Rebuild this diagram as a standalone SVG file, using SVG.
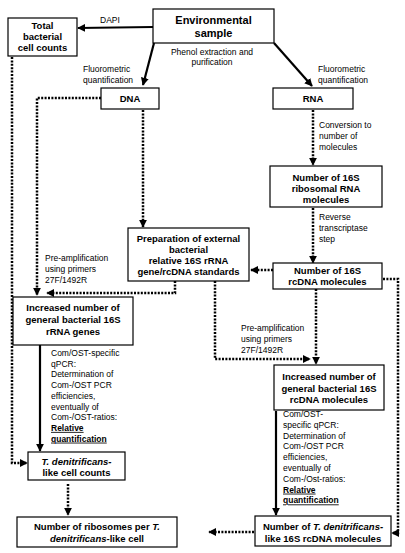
<svg xmlns="http://www.w3.org/2000/svg" width="405" height="553" viewBox="0 0 405 553">
<defs>
<style>
.box{fill:#fff;stroke:#000;stroke-width:1.2}
.t{font-family:"Liberation Sans",Arial,sans-serif;font-weight:bold;font-size:9.5px;text-anchor:middle;fill:#000}
.big{font-size:11px}
.l{font-family:"Liberation Sans",Arial,sans-serif;font-size:8.5px;fill:#000}
.i{font-style:italic}
.u{text-decoration:underline;font-weight:bold}
.sol{fill:none;stroke:#000;stroke-width:2.2;marker-end:url(#ah)}
.dot{fill:none;stroke:#000;stroke-width:2.5;stroke-dasharray:2 1.4;marker-end:url(#ah)}
.dotn{fill:none;stroke:#000;stroke-width:2.5;stroke-dasharray:2 1.4}
</style>
<marker id="ah" viewBox="0 0 10 10" refX="9" refY="5" markerWidth="8" markerHeight="8" markerUnits="userSpaceOnUse" orient="auto"><path d="M0,0 L10,5 L0,10 z" fill="#000"/></marker>
</defs>
<rect width="405" height="553" fill="#fff"/>

<g id="connectors">
<path class="sol" d="M153,27 L78,28"/>
<path class="sol" d="M154,43 L143,85"/>
<path class="sol" d="M274,43 L312,86"/>
<path class="dot" d="M12,57 L12,463 L27,463"/>
<path class="dot" d="M101,98 L37,98 L37,295"/>
<path class="dot" d="M143,110 L143,227"/>
<path class="dot" d="M313,110 L313,165"/>
<path class="dot" d="M313,208 L313,263"/>
<path class="dot" d="M273,270 L251,270"/>
<path class="dot" d="M175,281 L175,293 L47,293"/>
<path class="dot" d="M215,281 L215,359 L310,359"/>
<path class="dot" d="M316,289 L316,364"/>
<path class="dot" d="M383,279 L398,279 L398,533 L392,533"/>
<path class="sol" d="M40,345 L40,451"/>
<path class="sol" d="M276,411 L276,515"/>
<path class="dot" d="M68,484 L68,515"/>
<path class="dot" d="M254,532 L209,532"/>
</g>

<g id="env">
<rect class="box" x="153" y="9" width="121" height="34"/>
<text class="t big" x="213.5" y="24">Environmental</text>
<text class="t big" x="213.5" y="37">sample</text>
</g>
<g id="total">
<rect class="box" x="8" y="18" width="69" height="38"/>
<text class="t" x="42.5" y="28.5">Total</text>
<text class="t" x="42.5" y="39.5">bacterial</text>
<text class="t" x="42.5" y="50.5">cell counts</text>
</g>
<g id="dna">
<rect class="box" x="101" y="88" width="58" height="21"/>
<text class="t" x="130" y="101.5">DNA</text>
</g>
<g id="rna">
<rect class="box" x="273" y="88" width="80" height="21"/>
<text class="t" x="313" y="101.5">RNA</text>
</g>
<g id="rrna16s">
<rect class="box" x="270" y="166" width="112" height="41"/>
<text class="t" x="326" y="180.5">Number of 16S</text>
<text class="t" x="326" y="191.5">ribosomal RNA</text>
<text class="t" x="326" y="202.5">molecules</text>
</g>
<g id="prep">
<rect class="box" x="128" y="228" width="121" height="53"/>
<text class="t" x="188.5" y="242">Preparation of external</text>
<text class="t" x="188.5" y="253">bacterial</text>
<text class="t" x="188.5" y="264">relative 16S rRNA</text>
<text class="t" x="188.5" y="275">gene/rcDNA standards</text>
</g>
<g id="rcdna">
<rect class="box" x="273" y="263" width="109" height="26"/>
<text class="t" x="327.5" y="274">Number of 16S</text>
<text class="t" x="327.5" y="285">rcDNA molecules</text>
</g>
<g id="incr">
<rect class="box" x="13" y="297" width="120" height="48"/>
<text class="t" x="73" y="311">Increased number of</text>
<text class="t" x="73" y="323">general bacterial 16S</text>
<text class="t" x="73" y="335">rRNA genes</text>
</g>
<g id="incrc">
<rect class="box" x="274" y="365" width="110" height="45"/>
<text class="t" x="329" y="380">Increased number of</text>
<text class="t" x="329" y="391.5">general bacterial 16S</text>
<text class="t" x="329" y="403">rcDNA molecules</text>
</g>
<g id="tden">
<rect class="box" x="28" y="452" width="97" height="28"/>
<text class="t" x="76.5" y="464.5"><tspan class="i">T. denitrificans-</tspan></text>
<text class="t" x="76.5" y="475.5">like cell counts</text>
</g>
<g id="ribo">
<rect class="box" x="17" y="517" width="160" height="30"/>
<text class="t" x="97" y="530">Number of ribosomes per <tspan class="i">T.</tspan></text>
<text class="t" x="97" y="542"><tspan class="i">denitrificans</tspan>-like cell</text>
</g>
<g id="ntden">
<rect class="box" x="255" y="516" width="136" height="30"/>
<text class="t" x="323" y="530">Number of <tspan class="i">T. denitrificans-</tspan></text>
<text class="t" x="323" y="542">like 16S rcDNA molecules</text>
</g>

<g id="labels">
<text class="l" x="100" y="23">DAPI</text>
<text class="l" x="212" y="55" text-anchor="middle">Phenol extraction and</text>
<text class="l" x="212" y="65" text-anchor="middle">purification</text>
<text class="l" x="83" y="72">Fluorometric</text>
<text class="l" x="83" y="83">quantification</text>
<text class="l" x="318" y="72">Fluorometric</text>
<text class="l" x="318" y="83">quantification</text>
<text class="l" x="319" y="128">Conversion to</text>
<text class="l" x="319" y="139">number of</text>
<text class="l" x="319" y="150">molecules</text>
<text class="l" x="319" y="220">Reverse</text>
<text class="l" x="319" y="231">transcriptase</text>
<text class="l" x="319" y="242">step</text>
<text class="l" x="45" y="261">Pre-amplification</text>
<text class="l" x="45" y="272">using primers</text>
<text class="l" x="45" y="283">27F/1492R</text>
<text class="l" x="241" y="331">Pre-amplification</text>
<text class="l" x="241" y="342">using primers</text>
<text class="l" x="241" y="353">27F/1492R</text>
<text class="l" x="51" y="356">Com/OST-specific</text>
<text class="l" x="51" y="366.7">qPCR:</text>
<text class="l" x="51" y="377.4">Determination of</text>
<text class="l" x="51" y="388.1">Com-/OST PCR</text>
<text class="l" x="51" y="398.8">efficiencies,</text>
<text class="l" x="51" y="409.5">eventually of</text>
<text class="l" x="51" y="420.2">Com-/OST-ratios:</text>
<text class="l u" x="51" y="430.9">Relative</text>
<text class="l u" x="51" y="441.6">quantification</text>
<text class="l" x="283" y="417">Com/OST-</text>
<text class="l" x="283" y="427.8">specific qPCR:</text>
<text class="l" x="283" y="438.6">Determination of</text>
<text class="l" x="283" y="449.4">Com-/OST PCR</text>
<text class="l" x="283" y="460.2">efficiencies,</text>
<text class="l" x="283" y="471">eventually of</text>
<text class="l" x="283" y="481.8">Com-/Ost-ratios:</text>
<text class="l u" x="283" y="492.6">Relative</text>
<text class="l u" x="283" y="503.4">quantification</text>
</g>
</svg>
